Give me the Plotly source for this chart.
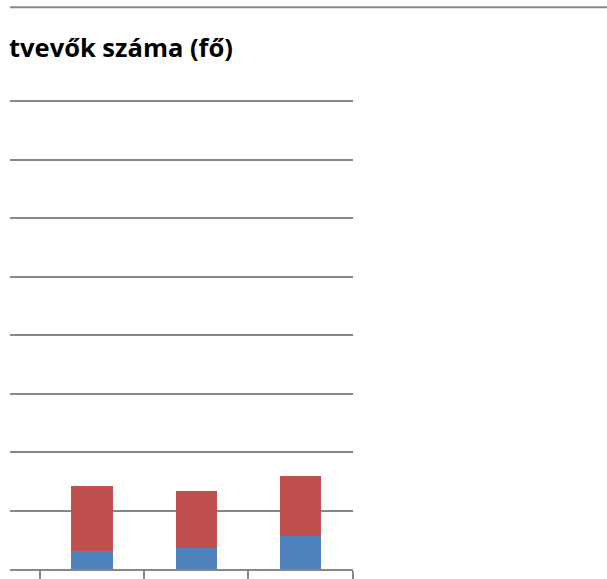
import plotly.graph_objects as go

# visible part of the chart: three stacked columns, no readable labels
positions = [1, 2, 3]
blue_vals = [31, 36, 56]
red_vals = [111, 98, 103]
title_text = "tvevők száma (fő)"

grid_col = "#878787"

fig = go.Figure()
fig.add_trace(go.Bar(x=positions, y=blue_vals, marker_color="#4F81BD",
                     marker_line_width=0, width=0.4))
fig.add_trace(go.Bar(x=positions, y=red_vals, marker_color="#C0504D",
                     marker_line_width=0, width=0.4))

fig.update_layout(
    barmode="stack",
    width=607, height=579,
    margin=dict(l=10, r=254, t=100, b=10),
    plot_bgcolor="white", paper_bgcolor="white",
    showlegend=False,
    xaxis=dict(range=[0.212, 3.503], showgrid=False, zeroline=False, automargin=False,
               showline=True, linecolor=grid_col, linewidth=1.5,
               ticks="outside", ticklen=12, tickcolor=grid_col, tickwidth=1.5,
               tickvals=[0.5, 1.5, 2.5, 3.5], showticklabels=False),
    yaxis=dict(range=[0, 802], tickvals=[100, 200, 300, 400, 500, 600, 700, 800],
               showgrid=True, gridcolor=grid_col, automargin=False,
               gridwidth=1.5, zeroline=False, showticklabels=False),
    shapes=[dict(type="line", xref="paper", yref="paper", x0=0, x1=1.75,
                 y0=1.198, y1=1.198, line=dict(color=grid_col, width=2))],
    annotations=[dict(text=title_text, xref="paper", yref="paper", x=-0.008, y=1.112,
                      xanchor="left", yanchor="middle", showarrow=False,
                      font=dict(family="Open Sans", size=25.5, color="black", weight="bold"))],
)

fig.write_html("out.html", config={"displayModeBar": False},
               post_script="document.body.style.margin='0';")
